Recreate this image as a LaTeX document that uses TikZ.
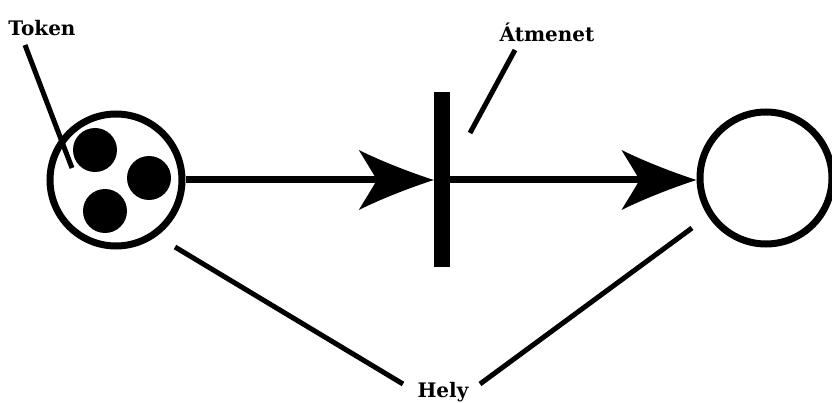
\documentclass[tikz,border=0pt]{standalone}
\usepackage{fontspec}
\setmainfont{DejaVu Serif}
\usetikzlibrary{arrows.meta}
% curved barb for the arcs
\pgfdeclarearrow{
  name=Barb,
  setup code={
    \pgfarrowssettipend{0pt}
    \pgfarrowssetlineend{-56pt}
    \pgfarrowssetbackend{-75pt}
    \pgfarrowshullpoint{0pt}{0pt}
    \pgfarrowshullpoint{-75pt}{30pt}
    \pgfarrowshullpoint{-75pt}{-30pt}
  },
  drawing code={
    \pgfpathmoveto{\pgfqpoint{0pt}{0pt}}
    \pgfpathcurveto{\pgfqpoint{-25pt}{8pt}}{\pgfqpoint{-55pt}{20pt}}{\pgfqpoint{-75pt}{30pt}}
    \pgfpathcurveto{\pgfqpoint{-69pt}{20pt}}{\pgfqpoint{-62pt}{9pt}}{\pgfqpoint{-57pt}{0pt}}
    \pgfpathcurveto{\pgfqpoint{-62pt}{-9pt}}{\pgfqpoint{-69pt}{-20pt}}{\pgfqpoint{-75pt}{-30pt}}
    \pgfpathcurveto{\pgfqpoint{-55pt}{-20pt}}{\pgfqpoint{-25pt}{-8pt}}{\pgfqpoint{0pt}{0pt}}
    \pgfpathclose
    \pgfusepathqfill
  }
}
\tikzset{
  place/.style={draw,circle,line width=7pt,minimum size=132pt,inner sep=0pt},
  token/.style={fill,circle,minimum size=44pt,inner sep=0pt},
  bar/.style={fill,rectangle,minimum width=16pt,minimum height=175pt,inner sep=0pt},
  arc/.style={line width=7pt,-Barb},
  pointer/.style={line width=5pt},
  lbl/.style={inner sep=0pt,anchor=base,font=\fontsize{20}{24}\selectfont\bfseries}
}
\begin{document}
\begin{tikzpicture}[x=1pt,y=-1pt]
  \useasboundingbox (0,0) rectangle (832,403);
  % places and transition
  \node[place] (p1) at (116,180) {};
  \node[place] (p2) at (766,178) {};
  \node[bar] (t1) at (442,180) {};
  % tokens
  \node[token] (k1) at (95,150) {};
  \node[token] (k2) at (149,178) {};
  \node[token] (k3) at (105,211) {};
  % arcs
  \draw[arc] (p1) -- (t1);
  \draw[arc] (t1) -- (t1 -| p2.west);
  % labels
  \node[lbl] (token) at (42,36) {Token};
  \node[lbl] (trans) at (547,42) {Átmenet};
  \node[lbl] (hely) at (443,397) {Hely};
  \coordinate (tokA) at (25,45);\coordinate (tokB) at (72,168);
  \coordinate (trA) at (515,50);\coordinate (trB) at (470,133);
  \coordinate (hA) at (175,247);\coordinate (hB) at (403,384);
  \coordinate (hC) at (692,228);\coordinate (hD) at (480,384);
  \draw[pointer] (tokA) -- (tokB);
  \draw[pointer] (trA) -- (trB);
  \draw[pointer] (hA) -- (hB);\draw[pointer] (hC) -- (hD);
\end{tikzpicture}
\end{document}
